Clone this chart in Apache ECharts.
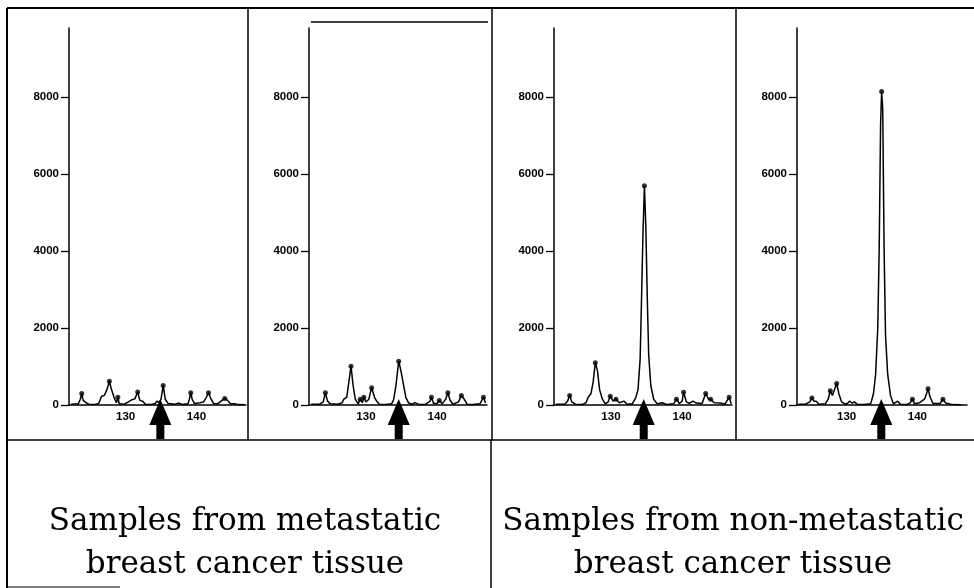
<!DOCTYPE html>
<html>
<head>
<meta charset="utf-8">
<script src="https://cdn.jsdelivr.net/npm/echarts@6/dist/echarts.min.js"></script>
<style>
html,body{margin:0;padding:0;background:#fff;}
#chart{width:974px;height:588px;}
</style>
</head>
<body>
<div id="chart"></div>
<script>
// ---- data (m/z, intensity) ----
const yTicks = [0, 2000, 4000, 6000, 8000];
const xTicks = [130, 140];
const captions = [
  ["Samples from metastatic", "breast cancer tissue"],
  ["Samples from non-metastatic", "breast cancer tissue"]
];
const arrowPositions = [134.9, 134.6, 134.6, 134.9];

const sampleMet1 = [[122.3,20],[123.3,30],[123.6,150],[123.8,300],[124.0,120],[124.4,60],[124.8,20],[125.5,10],[126.2,40],[126.6,230],[127.0,250],[127.4,420],[127.7,620],[128.0,400],[128.4,180],[128.7,60],[128.9,200],[129.1,30],[129.8,20],[130.4,80],[130.8,130],[131.3,160],[131.7,340],[132.0,120],[132.4,100],[132.8,20],[133.6,15],[134.2,40],[134.4,100],[134.7,60],[135.0,150],[135.3,510],[135.6,150],[136.0,40],[137.0,20],[137.5,50],[138.0,15],[138.8,30],[139.0,150],[139.2,320],[139.4,150],[139.7,40],[140.5,60],[141.0,80],[141.4,200],[141.7,320],[142.0,180],[142.4,40],[143.0,30],[143.6,120],[144.0,170],[144.4,120],[144.8,30],[145.4,30],[146.0,10],[146.8,5]];

const sampleMet2 = [[122.3,20],[123.5,20],[124.0,80],[124.3,320],[124.6,100],[125.0,30],[126.0,20],[126.6,50],[126.9,150],[127.3,200],[127.6,600],[127.9,1010],[128.2,500],[128.5,150],[128.9,30],[129.2,150],[129.5,60],[129.7,200],[130.0,80],[130.4,150],[130.8,450],[131.2,200],[131.5,100],[131.9,20],[132.8,15],[133.6,30],[133.9,150],[134.2,490],[134.6,1140],[134.9,900],[135.2,600],[135.6,200],[136.0,50],[136.5,20],[136.9,60],[137.4,15],[138.3,10],[139.0,100],[139.2,200],[139.5,40],[140.0,40],[140.3,120],[140.7,30],[141.2,150],[141.5,320],[141.8,130],[142.2,20],[143.0,80],[143.4,250],[143.8,150],[144.2,20],[145.0,10],[146.0,30],[146.5,200],[146.8,50]];

const sampleNon1 = [[122.3,20],[123.5,20],[123.9,100],[124.2,250],[124.5,80],[125.0,20],[126.0,15],[126.5,60],[126.8,200],[127.2,300],[127.5,600],[127.8,1100],[128.1,900],[128.4,400],[128.8,150],[129.2,30],[129.6,80],[129.9,230],[130.3,100],[130.7,150],[131.2,60],[131.8,100],[132.3,20],[133.0,30],[133.5,200],[133.8,400],[134.1,1200],[134.3,2800],[134.5,4500],[134.7,5700],[134.9,4600],[135.1,2800],[135.3,1300],[135.6,500],[136.0,150],[136.5,30],[137.2,60],[137.8,15],[138.8,30],[139.2,150],[139.6,40],[140.0,100],[140.2,330],[140.6,80],[141.0,40],[141.5,100],[142.0,50],[142.8,40],[143.3,300],[143.7,150],[144.0,150],[144.5,60],[145.4,50],[146.0,20],[146.6,200],[146.9,30]];

const sampleNon2 = [[123.2,20],[124.2,20],[124.8,80],[125.1,180],[125.4,100],[125.7,100],[126.1,20],[127.0,30],[127.4,150],[127.7,370],[128.0,250],[128.3,400],[128.6,560],[128.9,300],[129.3,80],[129.8,20],[130.1,40],[130.4,100],[130.8,50],[131.1,80],[131.5,20],[132.5,10],[133.4,30],[133.8,300],[134.1,800],[134.4,2000],[134.6,4000],[134.8,7300],[134.95,8150],[135.1,7700],[135.3,4000],[135.5,1800],[135.8,800],[136.2,250],[136.6,30],[137.2,100],[137.6,20],[138.6,15],[139.0,60],[139.3,150],[139.6,30],[140.3,60],[140.6,100],[141.0,150],[141.3,300],[141.5,420],[141.8,200],[142.2,40],[143.2,40],[143.6,150],[144.0,50],[145.0,10],[146.2,5]];

const samples = [sampleMet1, sampleMet2, sampleNon1, sampleNon2];

// ---- layout ----
const panels = [
  {left: 69,  width: 177, xmin: 122, xmax: 147},
  {left: 309, width: 178, xmin: 122, xmax: 147},
  {left: 554, width: 178, xmin: 122, xmax: 147},
  {left: 797, width: 170, xmin: 123, xmax: 147}
];
const gridTop = 28, gridHeight = 377, yMax = 9800;

function peaks(data) {
  const out = [];
  for (let i = 1; i < data.length - 1; i++) {
    if (data[i][1] >= data[i-1][1] && data[i][1] >= data[i+1][1] && data[i][1] >= 120) out.push(data[i]);
  }
  return out;
}

const labelFont = {fontFamily: 'Liberation Sans', fontSize: 11.5, fontWeight: 'bold', color: '#000'};

const option = {
  animation: false,
  backgroundColor: '#fff',
  grid: panels.map(p => ({left: p.left, top: gridTop, width: p.width, height: gridHeight, containLabel: false})),
  xAxis: panels.map((p, i) => ({
    type: 'value', gridIndex: i, min: p.xmin, max: p.xmax,
    splitLine: {show: false},
    axisLine: {onZero: false, lineStyle: {color: '#000', width: 1.5}},
    axisTick: {show: false},
    axisLabel: Object.assign({margin: 6, customValues: xTicks, formatter: v => String(v)}, labelFont)
  })),
  yAxis: panels.map((p, i) => ({
    type: 'value', gridIndex: i, min: 0, max: yMax,
    splitLine: {show: false},
    axisLine: {show: true, lineStyle: {color: '#000', width: 1.5}},
    axisTick: {show: true, length: 8, customValues: yTicks, lineStyle: {color: '#000', width: 1.3}},
    axisLabel: Object.assign({margin: 10, customValues: yTicks, formatter: v => String(v)}, labelFont)
  })),
  series: []
};

samples.forEach((d, i) => {
  option.series.push({
    type: 'line', xAxisIndex: i, yAxisIndex: i, data: d,
    showSymbol: false, symbol: 'none',
    lineStyle: {color: '#000', width: 1.5}
  });
  option.series.push({
    type: 'scatter', xAxisIndex: i, yAxisIndex: i, data: peaks(d),
    symbol: 'circle', symbolSize: 5,
    itemStyle: {color: '#000'}
  });
});

const chart = echarts.init(document.getElementById('chart'), null, {renderer: 'canvas'});
chart.setOption(option);

// ---- frame, captions, arrows ----
const g = [];
function ln(x1, y1, x2, y2, w) {
  g.push({type: 'line', shape: {x1, y1, x2, y2}, style: {stroke: '#000', lineWidth: w || 1.5}, silent: true});
}
ln(7, 8, 974, 8, 2);
ln(7, 8, 7, 588, 2);
ln(248, 8, 248, 440);
ln(492, 8, 492, 440);
ln(736, 8, 736, 440);
ln(7, 440, 974, 440);
ln(491, 440, 491, 588);
ln(7, 587, 120, 587, 1);
ln(311, 22, 488, 22, 1.5);

const capCenters = [245, 733];
captions.forEach((c, k) => {
  c.forEach((t, j) => {
    g.push({type: 'text', x: capCenters[k], y: 522 + j * 43, silent: true,
      style: {text: t, fill: '#000', font: '31px "DejaVu Serif"', align: 'center', verticalAlign: 'middle'}});
  });
});

arrowPositions.forEach((v, i) => {
  const p = chart.convertToPixel({gridIndex: i}, [v, 0]);
  const x = p[0], tip = p[1] - 6;
  g.push({type: 'polygon', silent: true, shape: {points: [
    [x, tip], [x + 11, tip + 26], [x + 4, tip + 26], [x + 4, 439], [x - 4, 439], [x - 4, tip + 26], [x - 11, tip + 26]
  ]}, style: {fill: '#000'}});
});

chart.setOption({graphic: {elements: g}});
</script>
</body>
</html>
